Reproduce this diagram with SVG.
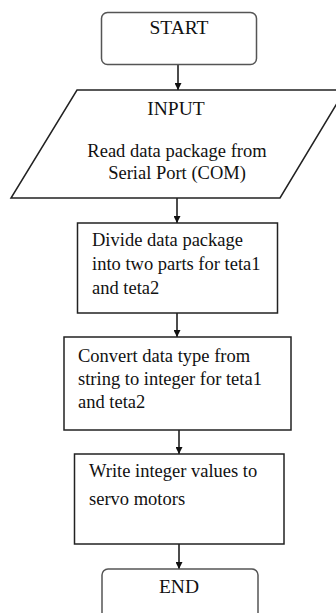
<svg xmlns="http://www.w3.org/2000/svg" width="336" height="613" viewBox="0 0 336 613">
<style>
.box{fill:#fff;stroke:#222;stroke-width:1.5}
.term{fill:#fff;stroke:#555;stroke-width:1.5}
.t{font-family:"Liberation Serif","Times New Roman",serif;font-size:18.5px;fill:#111}
.h{font-family:"Liberation Serif","Times New Roman",serif;font-size:19.5px;fill:#111;text-anchor:middle}
.c{fill:none;stroke:#111;stroke-width:1.5}
</style>
<defs>
<marker id="ah" viewBox="0 0 10 10" refX="10" refY="5" markerWidth="7" markerHeight="7" markerUnits="userSpaceOnUse" orient="auto">
<path d="M0,0 L10,5 L0,10 z" fill="#111"/>
</marker>
</defs>
<g id="connectors">
<line class="c" x1="178" y1="65" x2="178" y2="90" marker-end="url(#ah)"/>
<line class="c" x1="177" y1="198" x2="177" y2="223" marker-end="url(#ah)"/>
<line class="c" x1="177" y1="313" x2="177" y2="337" marker-end="url(#ah)"/>
<line class="c" x1="179" y1="430" x2="179" y2="454" marker-end="url(#ah)"/>
<line class="c" x1="179" y1="544" x2="179" y2="569" marker-end="url(#ah)"/>
</g>
<g id="start">
<rect class="term" x="101.5" y="12.5" width="155" height="52" rx="6"/>
<text class="h" x="179" y="34">START</text>
</g>
<g id="input">
<polygon class="box" points="77,90 345,90 280,198 11,198"/>
<text class="h" x="176" y="115">INPUT</text>
<text class="t" x="177" y="157" text-anchor="middle">Read data package from</text>
<text class="t" x="177" y="179" text-anchor="middle">Serial Port (COM)</text>
</g>
<g id="divide">
<rect class="box" x="77.5" y="223" width="200" height="90"/>
<text class="t" x="92" y="246">Divide data package</text>
<text class="t" x="92" y="270">into two parts for teta1</text>
<text class="t" x="92" y="294">and teta2</text>
</g>
<g id="convert">
<rect class="box" x="64" y="337" width="227" height="93"/>
<text class="t" x="78" y="362">Convert data type from</text>
<text class="t" x="78" y="385">string to integer for teta1</text>
<text class="t" x="78" y="408">and teta2</text>
</g>
<g id="write">
<rect class="box" x="74.5" y="454" width="209.5" height="90"/>
<text class="t" x="89" y="477">Write integer values to</text>
<text class="t" x="89" y="505">servo motors</text>
</g>
<g id="end">
<rect class="term" x="102" y="569" width="156" height="52" rx="6"/>
<text class="h" x="179" y="593">END</text>
</g>
</svg>
